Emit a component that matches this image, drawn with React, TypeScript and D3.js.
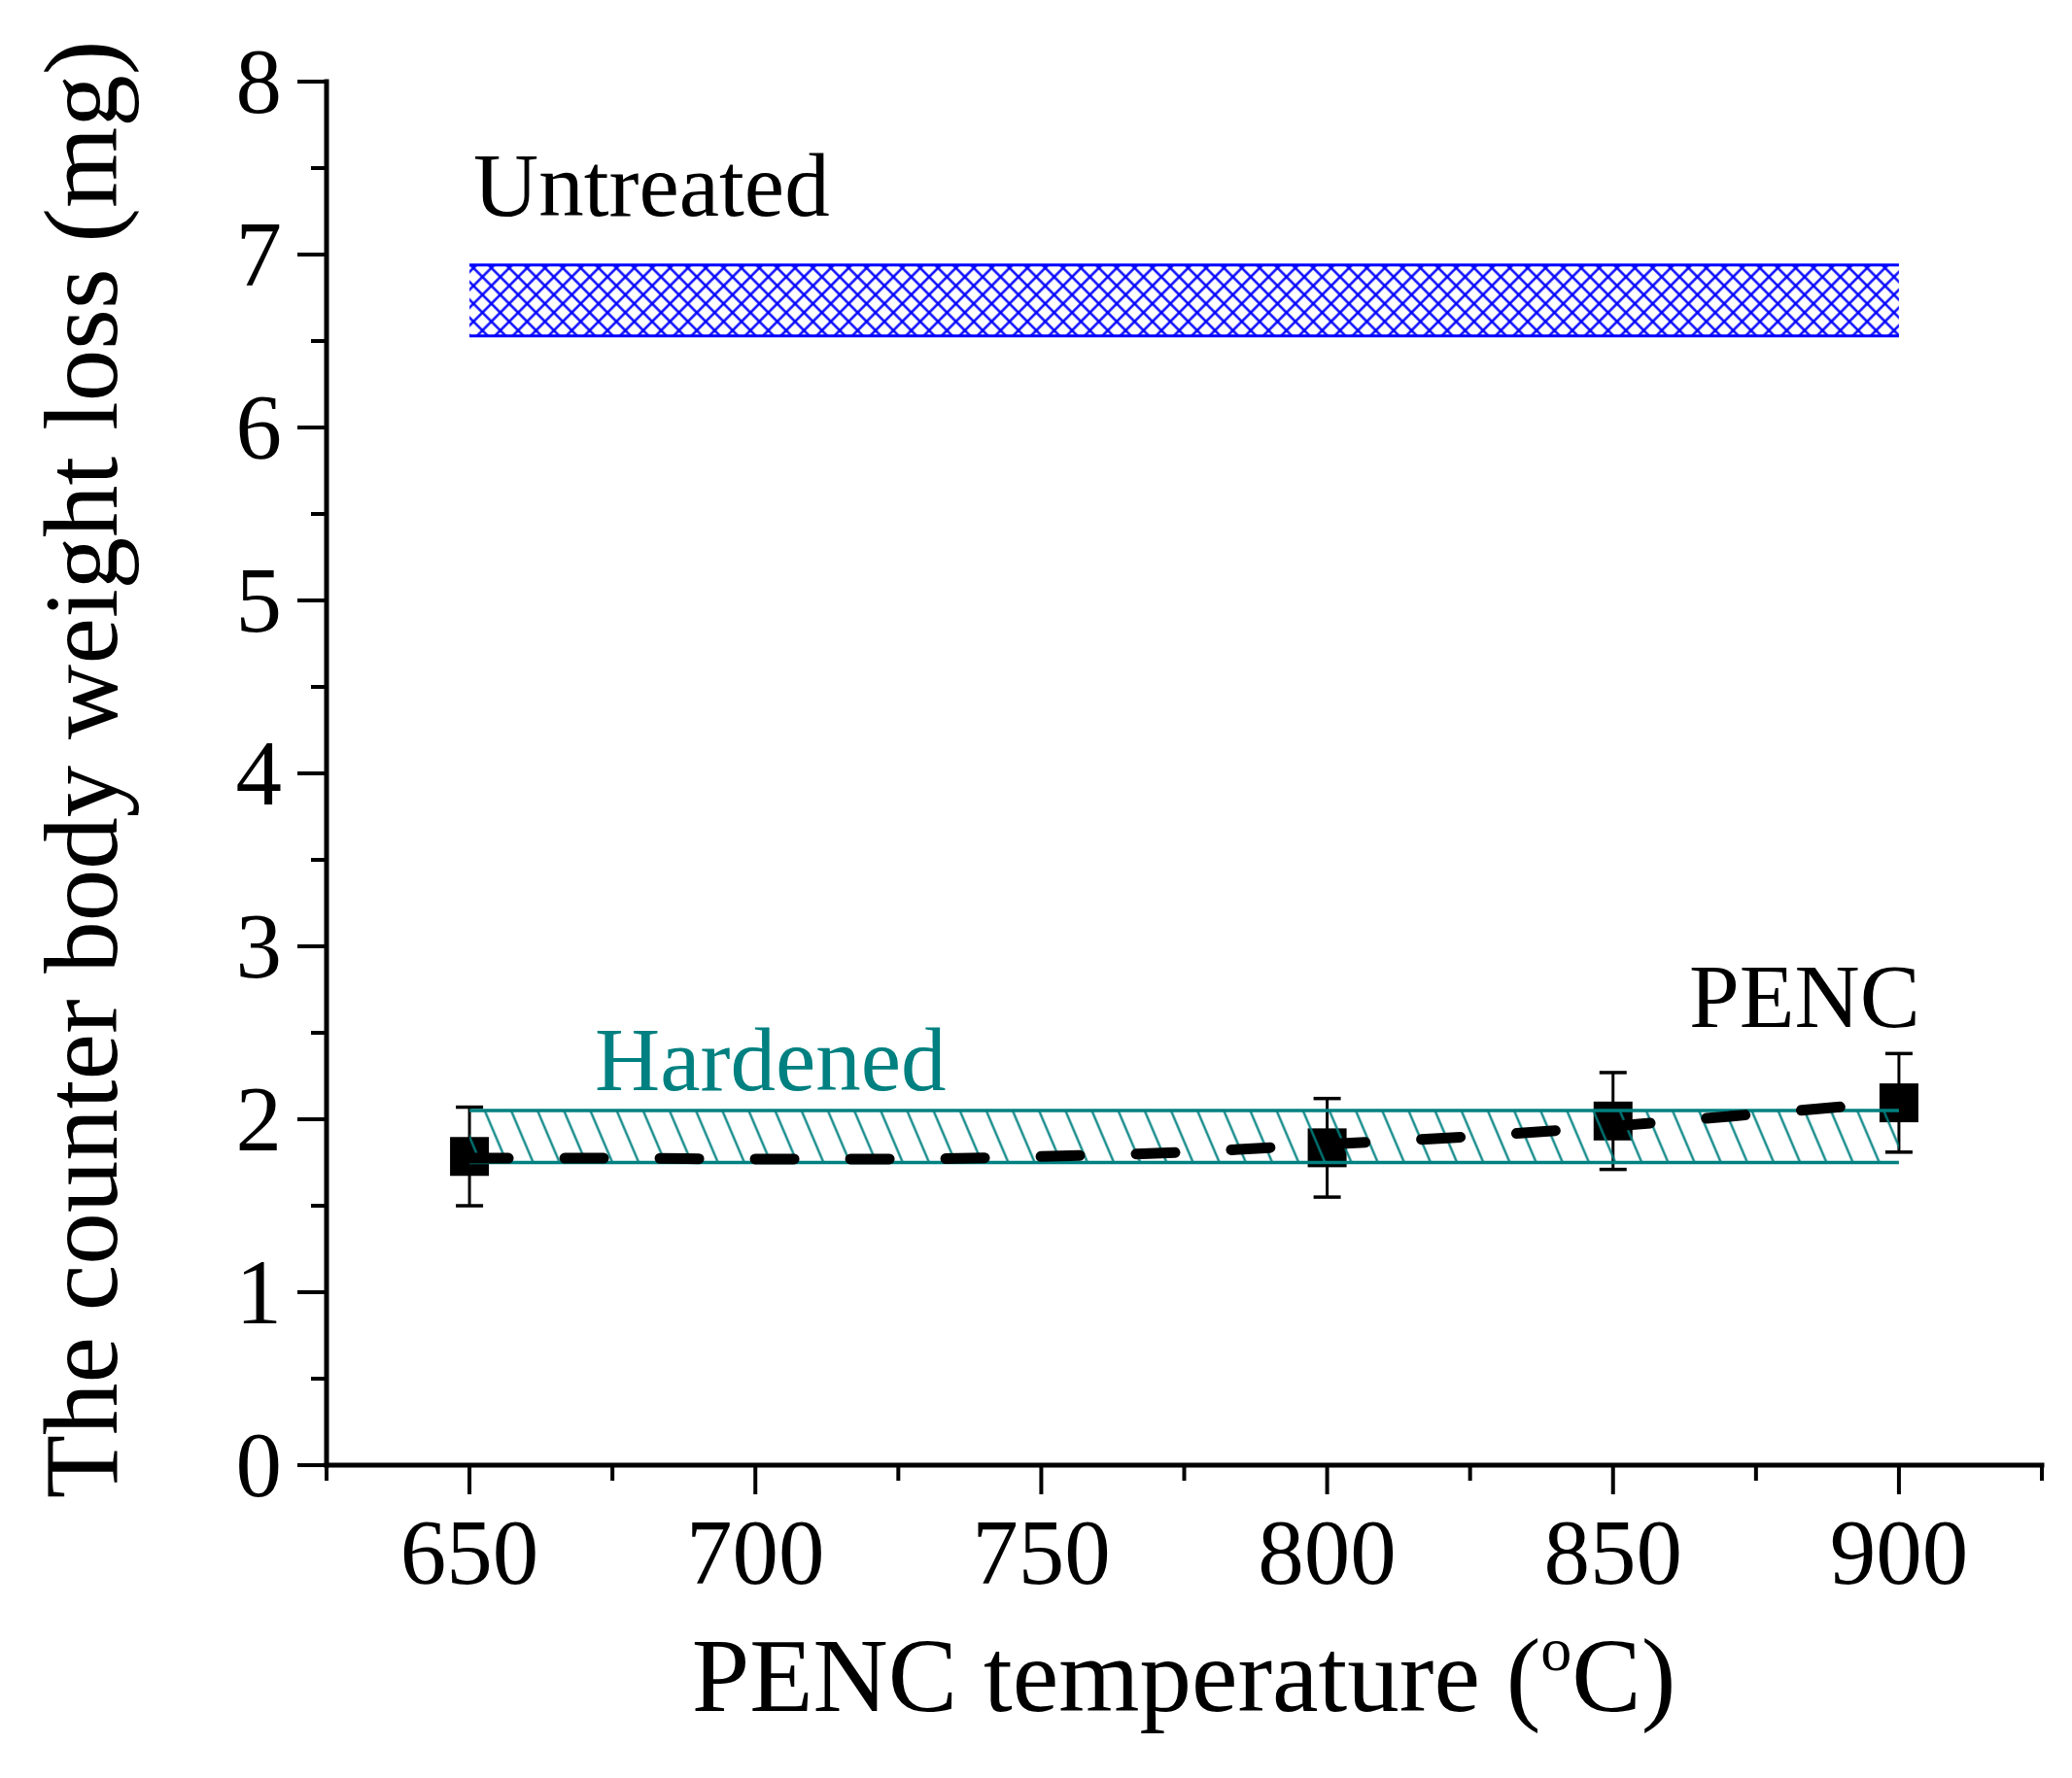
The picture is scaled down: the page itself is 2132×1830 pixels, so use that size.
import { useEffect, useRef } from "react"
import * as d3 from "d3"

// PENC samples
const temps = [650, 800, 850, 900]
const pencLoss = [1.785, 1.835, 1.99, 2.095]
const pencErr = [0.285, 0.285, 0.28, 0.285]

// dashed trend curve
const fitTemps = [650, 675, 700, 725, 750, 775, 800, 825, 850, 875, 900]
const fitLoss = [1.775, 1.775, 1.77, 1.77, 1.785, 1.81, 1.855, 1.9, 1.96, 2.03, 2.1]

// reference bands (min, max)
const bandSpan = [650, 900]
const untreatedBand = [6.53, 6.94]
const hardenedBand = [1.75, 2.05]

const xMajor = [650, 700, 750, 800, 850, 900]
const xMinor = [625, 675, 725, 775, 825, 875, 925]
const yMajor = [0, 1, 2, 3, 4, 5, 6, 7, 8]
const yMinor = [0.5, 1.5, 2.5, 3.5, 4.5, 5.5, 6.5, 7.5]

const W = 2132
const H = 1830
const FONT = "'Liberation Serif', 'Times New Roman', serif"
const TEAL = "#008080"
const BLUE = "#0000ff"

export default function App() {
  const svgRef = useRef<SVGSVGElement>(null)

  useEffect(() => {
    if (!svgRef.current) return
    const svg = d3.select(svgRef.current)
    svg.selectAll("*").remove()

    const x = d3.scaleLinear().domain([625, 925]).range([336, 2101])
    const y = d3.scaleLinear().domain([0, 8]).range([1508, 84])

    // patterns
    const defs = svg.append("defs")
    const cross = defs
      .append("pattern")
      .attr("id", "cross")
      .attr("patternUnits", "userSpaceOnUse")
      .attr("width", 13)
      .attr("height", 13)
      .attr("patternTransform", "rotate(45)")
    cross.append("line").attr("x1", 6.5).attr("x2", 6.5).attr("y1", -1).attr("y2", 14)
      .attr("stroke", BLUE).attr("stroke-width", 2.4)
    cross.append("line").attr("y1", 6.5).attr("y2", 6.5).attr("x1", -1).attr("x2", 14)
      .attr("stroke", BLUE).attr("stroke-width", 2.4)

    const diag = defs
      .append("pattern")
      .attr("id", "diag")
      .attr("patternUnits", "userSpaceOnUse")
      .attr("width", 25)
      .attr("height", 25)
      .attr("patternTransform", "rotate(-23)")
    diag.append("line").attr("x1", 12.5).attr("x2", 12.5).attr("y1", -1).attr("y2", 26)
      .attr("stroke", TEAL).attr("stroke-width", 2.2)

    // untreated band
    const drawBand = (band: number[], fill: string, color: string, lw: number) => {
      const g = svg.append("g")
      g.append("rect")
        .attr("x", x(bandSpan[0]))
        .attr("width", x(bandSpan[1]) - x(bandSpan[0]))
        .attr("y", y(band[1]))
        .attr("height", y(band[0]) - y(band[1]))
        .attr("fill", `url(#${fill})`)
      band.forEach((v) => {
        g.append("line")
          .attr("x1", x(bandSpan[0]))
          .attr("x2", x(bandSpan[1]))
          .attr("y1", y(v))
          .attr("y2", y(v))
          .attr("stroke", color)
          .attr("stroke-width", lw)
      })
    }
    drawBand(untreatedBand, "cross", BLUE, 3)

    // error bars + squares
    const pts = svg.append("g")
    temps.forEach((t, i) => {
      const cx = x(t)
      const top = y(pencLoss[i] + pencErr[i])
      const bot = y(pencLoss[i] - pencErr[i])
      pts.append("line").attr("x1", cx).attr("x2", cx).attr("y1", top).attr("y2", bot)
        .attr("stroke", "#000").attr("stroke-width", 3)
      ;[top, bot].forEach((yy) => {
        pts.append("line").attr("x1", cx - 14).attr("x2", cx + 14).attr("y1", yy).attr("y2", yy)
          .attr("stroke", "#000").attr("stroke-width", 3.5)
      })
      pts.append("rect")
        .attr("x", cx - 20)
        .attr("y", y(pencLoss[i]) - 20)
        .attr("width", 40)
        .attr("height", 40)
        .attr("fill", "#000")
    })

    drawBand(hardenedBand, "diag", TEAL, 3.5)

    // dashed trend
    const line = d3
      .line<number>()
      .x((_, i) => x(fitTemps[i]))
      .y((d) => y(d))
      .curve(d3.curveMonotoneX)
    svg.append("path")
      .datum(fitLoss)
      .attr("d", line)
      .attr("fill", "none")
      .attr("stroke", "#000")
      .attr("stroke-width", 11)
      .attr("stroke-linecap", "round")
      .attr("stroke-dasharray", "40 58")

    // axes
    const axes = svg.append("g").attr("stroke", "#000")
    axes.append("line").attr("x1", x(625)).attr("x2", x(925)).attr("y1", y(0)).attr("y2", y(0))
      .attr("stroke-width", 5).attr("stroke-linecap", "square")
    axes.append("line").attr("x1", x(625)).attr("x2", x(625)).attr("y1", y(0)).attr("y2", y(8))
      .attr("stroke-width", 5).attr("stroke-linecap", "square")
    xMajor.forEach((v) => {
      axes.append("line").attr("x1", x(v)).attr("x2", x(v)).attr("y1", y(0)).attr("y2", y(0) + 30)
        .attr("stroke-width", 4)
    })
    xMinor.forEach((v) => {
      axes.append("line").attr("x1", x(v)).attr("x2", x(v)).attr("y1", y(0)).attr("y2", y(0) + 16)
        .attr("stroke-width", 4)
    })
    yMajor.forEach((v) => {
      axes.append("line").attr("x1", x(625) - 30).attr("x2", x(625)).attr("y1", y(v)).attr("y2", y(v))
        .attr("stroke-width", 4)
    })
    yMinor.forEach((v) => {
      axes.append("line").attr("x1", x(625) - 16).attr("x2", x(625)).attr("y1", y(v)).attr("y2", y(v))
        .attr("stroke-width", 4)
    })

    const labels = svg.append("g").attr("font-family", FONT).attr("fill", "#000")
    xMajor.forEach((v) => {
      labels.append("text").attr("x", x(v)).attr("y", 1630).attr("text-anchor", "middle")
        .attr("font-size", 95).text(String(v))
    })
    yMajor.forEach((v) => {
      labels.append("text").attr("x", 290).attr("y", y(v) + 32).attr("text-anchor", "end")
        .attr("font-size", 95).text(String(v))
    })

    // axis titles
    const xt = labels.append("text").attr("x", 1218).attr("y", 1761).attr("text-anchor", "middle")
      .attr("font-size", 107)
    xt.append("tspan").text("PENC temperature (")
    xt.append("tspan").attr("font-size", 64).attr("dy", -42).text("o")
    xt.append("tspan").attr("dy", 42).text("C)")

    labels.append("text")
      .attr("transform", "translate(120,792) rotate(-90)")
      .attr("text-anchor", "middle")
      .attr("font-size", 107)
      .text("The counter body weight loss (mg)")

    // annotations
    labels.append("text").attr("x", 487).attr("y", 222).attr("font-size", 93).text("Untreated")
    labels.append("text").attr("x", 612).attr("y", 1122).attr("font-size", 93).attr("fill", TEAL)
      .text("Hardened")
    labels.append("text").attr("x", 1738).attr("y", 1057).attr("font-size", 93).text("PENC")
  }, [])

  return (
    <svg
      ref={svgRef}
      width={W}
      height={H}
      viewBox={`0 0 ${W} ${H}`}
      style={{ position: "absolute", left: 0, top: 0, background: "#fff" }}
    />
  )
}
